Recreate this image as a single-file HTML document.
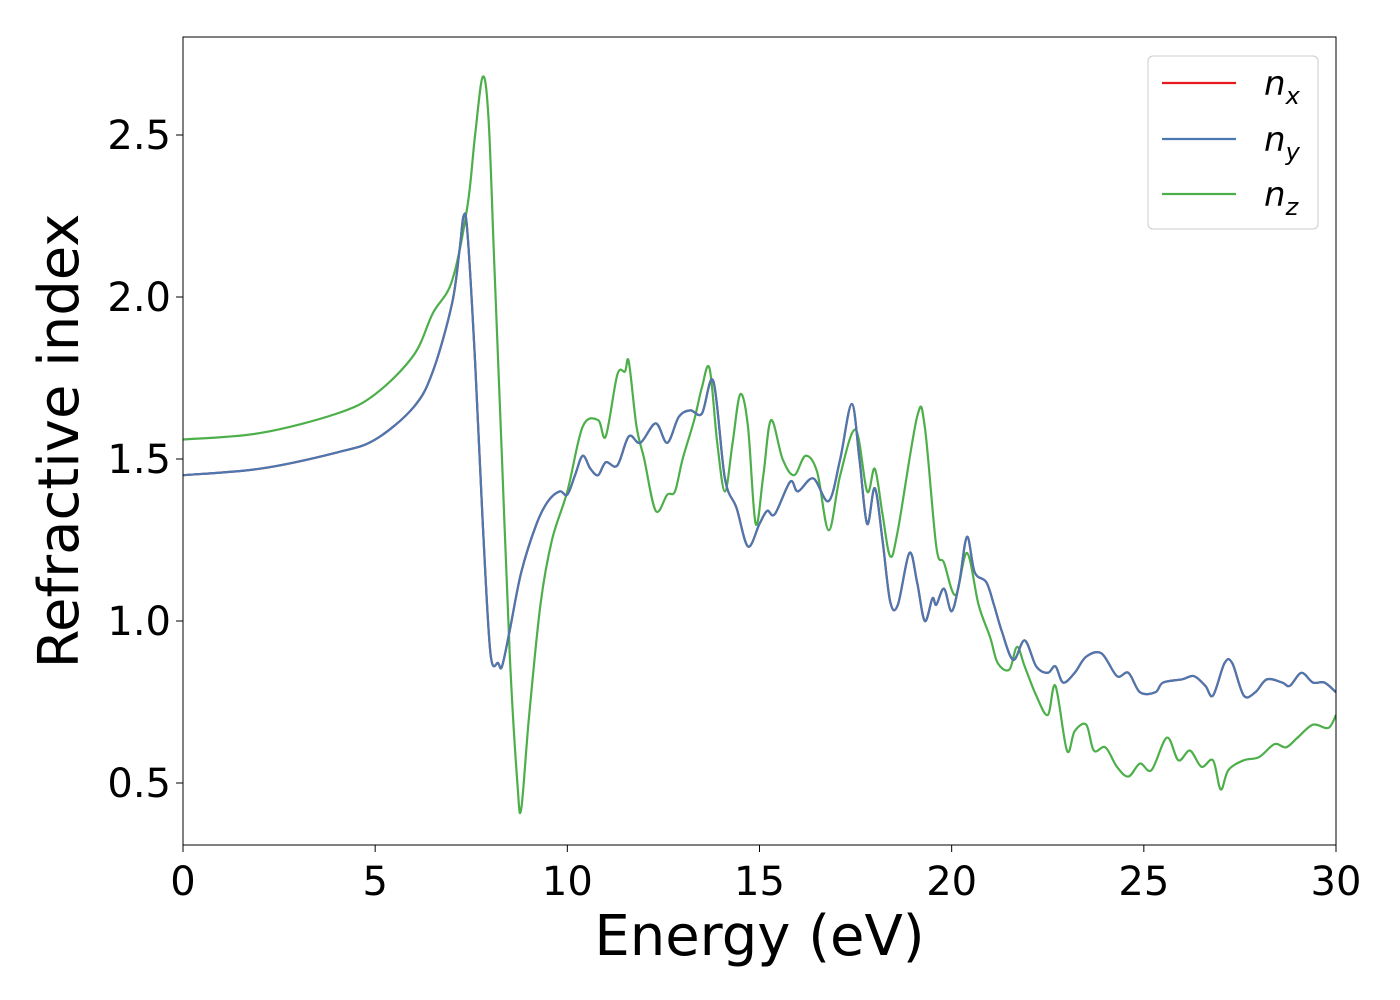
<!DOCTYPE html>
<html><head><meta charset="utf-8"><style>
body{margin:0;background:#fff;}
svg{display:block;font-family:"DejaVu Sans","Liberation Sans",sans-serif;}
</style></head><body>
<svg id="chart" width="1400" height="1000" viewBox="0 0 1400 1000"></svg>
<script>
const energyBlue=[0,2,4,5,6,6.5,7,7.2,7.3,7.4,7.6,7.8,8.0,8.2,8.3,8.5,8.8,9.2,9.5,9.8,10.0,10.2,10.4,10.6,10.8,11.0,11.3,11.6,11.9,12.3,12.6,12.9,13.2,13.5,13.8,14.1,14.4,14.7,15.0,15.2,15.4,15.8,16.0,16.4,16.8,17.1,17.4,17.6,17.8,18.0,18.2,18.4,18.6,18.9,19.1,19.3,19.5,19.6,19.8,20.0,20.2,20.4,20.6,20.9,21.1,21.3,21.6,21.9,22.2,22.5,22.7,22.9,23.2,23.5,23.9,24.3,24.6,24.9,25.3,25.5,26.0,26.3,26.6,26.8,27.1,27.3,27.6,27.9,28.2,28.6,28.8,29.1,29.4,29.7,30];
const nxy=[1.45,1.47,1.52,1.56,1.66,1.77,1.98,2.15,2.25,2.2,1.8,1.3,0.9,0.87,0.86,0.97,1.15,1.3,1.37,1.4,1.39,1.45,1.51,1.47,1.45,1.49,1.48,1.57,1.55,1.61,1.55,1.63,1.65,1.64,1.74,1.44,1.35,1.23,1.3,1.34,1.33,1.43,1.40,1.44,1.37,1.5,1.67,1.5,1.3,1.41,1.25,1.06,1.05,1.21,1.12,1.0,1.07,1.05,1.1,1.03,1.12,1.26,1.15,1.12,1.05,0.97,0.88,0.94,0.86,0.84,0.86,0.81,0.84,0.89,0.9,0.83,0.84,0.78,0.78,0.81,0.82,0.83,0.8,0.77,0.87,0.87,0.77,0.78,0.82,0.81,0.8,0.84,0.81,0.81,0.78];
const energyGreen=[0,2,4,5,6,6.5,7,7.4,7.6,7.8,7.95,8.1,8.3,8.5,8.7,8.8,9.0,9.3,9.6,10.0,10.4,10.8,11.0,11.3,11.5,11.6,11.8,12.0,12.3,12.6,12.8,13.0,13.3,13.5,13.7,13.9,14.1,14.3,14.5,14.7,14.9,15.1,15.3,15.6,15.9,16.2,16.5,16.8,17.1,17.5,17.8,18.0,18.2,18.4,18.6,19.1,19.3,19.6,19.8,20.1,20.4,20.7,21.0,21.2,21.5,21.7,21.9,22.2,22.5,22.7,23.0,23.2,23.5,23.7,24.0,24.3,24.6,24.9,25.2,25.6,25.9,26.2,26.5,26.8,27.0,27.2,27.6,28.0,28.4,28.7,29.0,29.4,29.8,30];
const nz=[1.56,1.58,1.64,1.7,1.82,1.95,2.05,2.28,2.5,2.68,2.55,2.1,1.5,0.9,0.5,0.42,0.7,1.05,1.25,1.4,1.6,1.62,1.57,1.76,1.77,1.8,1.6,1.5,1.34,1.39,1.4,1.5,1.62,1.72,1.78,1.55,1.40,1.55,1.7,1.6,1.3,1.45,1.62,1.5,1.45,1.51,1.46,1.28,1.45,1.59,1.4,1.47,1.33,1.2,1.28,1.63,1.6,1.23,1.18,1.08,1.21,1.05,0.95,0.87,0.85,0.92,0.86,0.77,0.71,0.8,0.6,0.66,0.68,0.6,0.61,0.55,0.52,0.56,0.54,0.64,0.57,0.6,0.55,0.57,0.48,0.54,0.57,0.58,0.62,0.61,0.64,0.68,0.67,0.71];
const xTicks=[0,5,10,15,20,25,30];
const yTicks=[0.5,1.0,1.5,2.0,2.5];
const yTickLabels=["0.5","1.0","1.5","2.0","2.5"];

const NS="http://www.w3.org/2000/svg";
const svg=document.getElementById('chart');
const L=183,R=1336,T=37,B=845;
const xs=v=>L+(v-0)/30*(R-L);
const ys=v=>945-v*324;
function el(tag,attrs,parent){const e=document.createElementNS(NS,tag);for(const k in attrs)e.setAttribute(k,attrs[k]);(parent||svg).appendChild(e);return e;}
function pathFor(X,Y){
  const p=X.map((x,i)=>[xs(x),ys(Y[i])]);
  let d=`M${p[0][0]},${p[0][1]}`;
  for(let i=0;i<p.length-1;i++){
    const p0=p[Math.max(0,i-1)],p1=p[i],p2=p[i+1],p3=p[Math.min(p.length-1,i+2)];
    const c1=[p1[0]+(p2[0]-p0[0])/6,p1[1]+(p2[1]-p0[1])/6];
    const c2=[p2[0]-(p3[0]-p1[0])/6,p2[1]-(p3[1]-p1[1])/6];
    d+=` C${c1[0]},${c1[1]} ${c2[0]},${c2[1]} ${p2[0]},${p2[1]}`;
  }
  return d;
}
const defs=el('defs',{});const cp=el('clipPath',{id:'clip'},defs);el('rect',{x:L,y:T,width:R-L,height:B-T},cp);
const g=el('g',{'clip-path':'url(#clip)'});
let s=el('path',{d:pathFor(energyGreen,nz),fill:'none',stroke:'#4daf4a','stroke-width':2.2},g);


s=el('path',{d:pathFor(energyBlue,nxy),fill:'none',stroke:'#e41a1c','stroke-width':2.2},g);


s=el('path',{d:pathFor(energyBlue,nxy),fill:'none',stroke:'#4a78b0','stroke-width':2.2},g);


const frame=el('rect',{x:L,y:T,width:R-L,height:B-T,fill:'none',stroke:'#000','stroke-width':1});


xTicks.forEach(v=>{
  el('line',{x1:xs(v),x2:xs(v),y1:B,y2:B+7,stroke:'#000','stroke-width':1});
  const t=el('text',{x:xs(v),y:B+50,'text-anchor':'middle','font-size':40});t.textContent=v;
  
  
});
yTicks.forEach((v,i)=>{
  el('line',{x1:L-7,x2:L,y1:ys(v),y2:ys(v),stroke:'#000','stroke-width':1});
  const t=el('text',{x:L-12,y:ys(v)+14,'text-anchor':'end','font-size':40});t.textContent=yTickLabels[i];
  
  
});
let t=el('text',{x:(L+R)/2,y:955,'text-anchor':'middle','font-size':56});t.textContent='Energy (eV)';


t=el('text',{x:0,y:0,'text-anchor':'middle','font-size':56,transform:`translate(78,${(T+B)/2}) rotate(-90)`});t.textContent='Refractive index';


const lg=el('g',{});


el('rect',{x:1148,y:56,width:170,height:173,rx:5,fill:'#fff',stroke:'#ccc','stroke-width':1},lg);
[['#e41a1c','x',83],['#4a78b0','y',139],['#4daf4a','z',194]].forEach(([c,sub,y])=>{
  const e=el('g',{},lg);
  
  
  el('line',{x1:1162,x2:1236,y1:y,y2:y,stroke:c,'stroke-width':2.2},e);
  const tx=el('text',{x:1264,y:y+12,'font-size':34,'font-style':'italic'},e);
  tx.appendChild(document.createTextNode('n'));
  const ts=el('tspan',{'font-size':24,dy:9},tx);ts.textContent=sub;
});
</script>
</body></html>
